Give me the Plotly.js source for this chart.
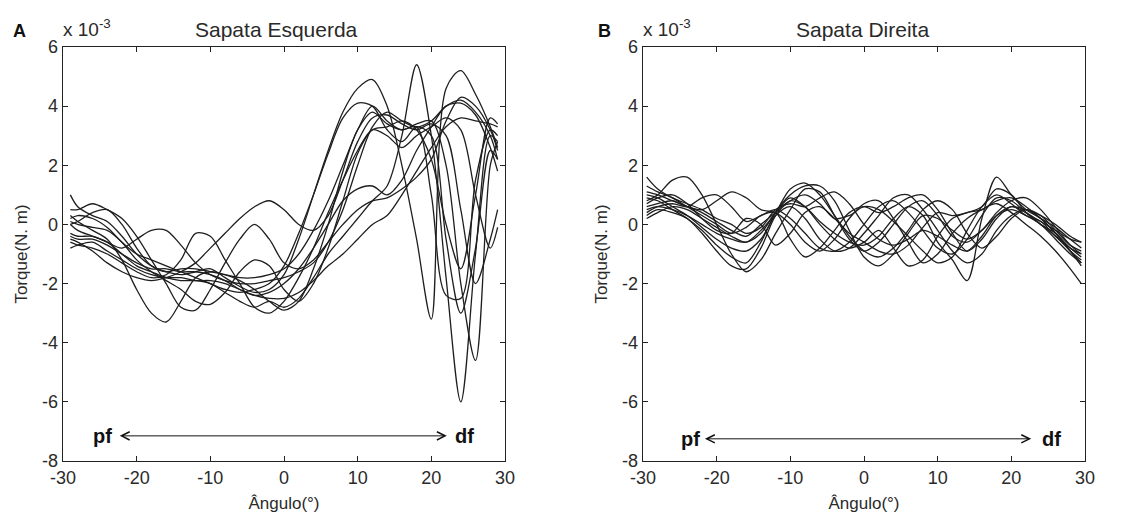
<!DOCTYPE html>
<html>
<head>
<meta charset="utf-8">
<script src="https://cdn.plot.ly/plotly-3.0.1.min.js"></script>
<style>html,body{margin:0;padding:0;background:#fff;}#chart{width:1139px;height:519px;}</style>
</head>
<body>
<div id="chart"></div>
<script>
// Angle grid (degrees)
const L_X = [-29,-28,-26,-24,-22,-20,-18,-16,-14,-12,-10,-8,-6,-4,-2,0,2,4,6,8,10,12,14,16,18,20,22,24,26,28,29];
const R_X = [-29.5,-28,-26,-24,-22,-20,-18,-16,-14,-12,-10,-8,-6,-4,-2,0,2,4,6,8,10,12,14,16,18,20,22,24,26,28,29.5];

// Sapata Esquerda (torque x 10^-3 N.m)
const L1 = [1.0,0.6,0.3,0.1,-0.4,-1.0,-1.4,-1.6,-1.7,-1.6,-1.5,-1.8,-2.1,-2.3,-2.2,-1.7,-0.5,1.0,2.5,3.8,4.6,4.9,4.0,2.0,-0.5,-3.2,4.6,5.2,4.4,3.3,2.6];
const L2 = [0.0,-0.2,-0.4,-0.6,-1.0,-1.4,-1.6,-1.8,-1.9,-1.9,-2.0,-2.3,-2.6,-2.8,-2.6,-2.8,-2.5,-1.8,-1.0,-0.4,0.2,0.8,1.3,3.0,5.4,3.0,-1.8,-6.0,-1.0,3.0,2.8];
const L3 = [-0.5,-0.6,-0.9,-1.3,-1.6,-1.8,-1.9,-1.8,-1.6,-1.3,-0.8,-0.3,0.2,0.6,0.8,0.5,0.0,-0.2,0.3,1.5,2.8,3.6,3.7,3.4,3.2,3.4,3.0,0.5,-2.0,-0.5,0.5];
const L4 = [0.3,0.1,-0.2,-0.5,-1.2,-2.2,-3.0,-3.3,-2.6,-1.8,-1.6,-1.7,-1.8,-1.8,-1.7,-1.5,-1.0,-0.2,0.8,2.0,3.2,4.0,3.5,3.2,3.4,3.5,2.0,-2.0,-4.6,2.0,2.8];
const L5 = [-0.3,-0.4,-0.4,-0.6,-0.8,-0.5,-0.2,-0.2,-0.7,-1.3,-1.7,-1.9,-2.0,-2.0,-1.9,-1.8,-1.6,-1.3,-0.6,0.5,2.0,3.3,3.8,3.5,3.3,3.5,4.0,4.2,3.8,3.0,2.2];
const L6 = [-0.6,-0.7,-0.8,-1.0,-1.3,-1.6,-1.8,-1.7,-1.2,-0.3,-0.4,-1.2,-2.0,-2.8,-3.0,-2.6,-1.8,-0.8,0.4,1.5,2.5,3.2,3.0,2.6,3.0,3.3,3.6,3.2,1.0,-0.8,-0.1];
const L7 = [0.5,0.5,0.7,0.5,0.2,-0.4,-1.2,-2.0,-2.8,-2.9,-2.2,-1.3,-0.5,0.0,-0.5,-1.3,-1.5,-1.2,-0.6,0.0,0.5,0.8,0.9,1.2,1.6,2.2,3.5,4.3,4.0,3.2,2.5];
const L8 = [-0.8,-0.7,-0.6,-0.9,-1.2,-1.5,-1.7,-1.8,-1.8,-1.9,-1.9,-2.0,-2.2,-2.4,-2.5,-2.5,-2.3,-1.9,-1.4,-1.0,-0.5,0.0,0.3,1.0,1.8,2.6,3.3,3.6,3.5,3.4,3.3];
const L9 = [-0.4,-0.5,-0.5,-0.7,-1.0,-1.3,-1.5,-1.5,-1.6,-1.6,-1.7,-1.9,-2.2,-2.4,-2.3,-2.0,-1.5,-0.8,0.0,0.8,1.2,1.3,1.0,1.5,2.5,3.3,4.0,4.1,3.7,2.6,1.8];
const L10 = [0.0,0.1,0.4,0.5,0.0,-0.8,-1.4,-1.6,-1.5,-1.5,-1.6,-1.7,-1.9,-2.2,-2.6,-2.9,-2.6,-1.5,0.0,1.8,3.2,3.8,3.4,3.2,3.3,1.0,-2.4,-2.5,1.5,3.2,3.0];
const L11 = [0.2,0.3,0.2,-0.1,-0.6,-1.0,-1.2,-1.4,-1.6,-1.8,-2.0,-2.2,-2.3,-2.2,-2.0,-1.4,-0.3,1.0,2.4,3.6,4.1,4.0,3.2,2.8,3.3,3.0,-0.5,-3.0,-0.8,2.5,2.2];
const L12 = [0.1,0.0,-0.1,-0.2,-0.6,-1.2,-1.6,-1.9,-2.2,-2.6,-2.7,-2.3,-1.6,-1.2,-1.4,-2.2,-2.6,-2.0,-0.8,0.8,2.4,3.2,3.3,3.5,3.2,2.2,0.0,-1.5,1.0,3.6,3.4];

// Sapata Direita (torque x 10^-3 N.m)
const R1 = [0.8,1.0,1.5,1.6,1.0,0.0,-1.0,-1.6,-1.2,-0.3,0.5,1.2,1.1,0.3,-0.5,-0.9,-0.6,0.0,0.6,0.8,0.3,-0.4,-0.6,-0.2,0.3,0.5,0.3,0.0,-0.5,-1.0,-1.3];
const R2 = [1.1,1.0,0.8,0.6,0.4,0.1,-0.2,-0.4,0.0,0.4,0.8,0.6,0.1,-0.3,-0.6,-0.7,-0.4,0.2,0.6,0.3,-0.6,-1.2,-1.9,0.2,1.6,1.0,0.5,0.2,-0.3,-0.9,-1.2];
const R3 = [0.5,0.6,0.5,0.3,0.0,-0.3,-0.5,-0.6,-0.2,0.4,1.2,1.4,1.0,0.3,-0.4,-0.9,-1.1,-0.8,-0.2,0.5,0.8,0.5,-0.3,-0.8,-0.4,0.2,0.5,0.3,-0.2,-0.7,-0.9];
const R4 = [1.3,1.1,0.9,0.6,0.3,0.0,-0.3,-0.1,0.3,0.4,-0.5,-1.1,-0.8,-0.2,0.4,0.6,0.4,0.6,0.9,1.0,0.5,-0.3,-0.9,-0.5,0.2,0.6,0.4,0.0,-0.3,-0.8,-1.1];
const R5 = [0.4,0.6,0.7,0.6,0.9,1.0,0.6,0.1,0.3,0.5,0.2,-0.3,-0.8,-0.9,-0.6,0.0,0.6,0.8,0.4,-0.2,-0.8,-1.0,-0.5,0.3,0.9,0.8,0.4,0.1,-0.2,-0.5,-0.6];
const R6 = [0.9,0.8,0.5,0.2,-0.2,-0.7,-1.1,-1.3,-0.6,0.4,1.0,1.3,1.3,0.8,-0.2,-1.1,-1.4,-1.0,-0.3,0.3,0.2,-0.2,-0.5,-0.2,0.4,0.8,0.9,0.5,-0.1,-0.7,-1.0];
const R7 = [0.6,0.7,0.8,0.6,0.5,0.8,1.1,0.9,0.5,0.4,0.0,-0.6,-0.9,-0.5,0.2,0.7,0.8,0.2,-0.6,-1.3,-1.0,-0.3,0.2,0.5,0.7,0.4,0.0,-0.4,-0.9,-1.5,-2.0];
const R8 = [0.2,0.4,0.6,0.5,0.2,-0.1,-0.4,-0.6,-0.3,0.4,0.9,0.6,0.0,-0.5,-0.8,-0.6,-0.2,-0.8,-1.4,-1.2,-0.4,0.2,0.4,0.5,0.8,0.9,0.6,0.2,-0.3,-0.9,-1.4];
const R9 = [1.6,1.2,0.9,0.7,0.5,0.2,0.0,-0.3,-0.1,0.5,0.7,0.6,0.9,1.1,0.7,0.0,-0.5,-0.7,-0.5,-0.2,-0.4,-0.7,-0.9,-0.4,0.3,0.6,0.5,0.3,0.0,-0.4,-0.6];
const R10 = [0.7,0.9,1.0,0.7,0.2,-0.2,-0.3,0.2,0.0,-0.7,-0.3,0.4,0.6,0.2,-0.3,-0.6,-0.9,-1.0,-0.7,-0.1,0.4,0.3,0.4,0.6,1.2,1.0,0.4,0.0,-0.4,-0.9,-1.3];
const R11 = [1.0,0.9,0.6,0.3,-0.1,-0.5,-0.8,-0.9,-0.5,0.3,0.6,0.2,-0.5,-0.9,-0.8,-0.3,0.3,0.9,1.0,0.5,-0.2,-0.9,-1.3,-1.0,-0.2,0.3,0.5,0.2,-0.1,-0.5,-0.8];
const R12 = [0.3,0.5,0.4,0.2,-0.3,-0.9,-1.4,-1.5,-0.8,0.3,0.8,1.0,0.7,0.2,0.3,0.6,0.5,0.1,-0.4,-0.9,-1.3,-1.1,-0.2,0.6,1.0,0.7,0.3,0.1,-0.4,-0.8,-1.0];

const X_TICKS = [-30,-20,-10,0,10,20,30];
const X_TICK_TEXT = ['-30','-20','-10','0','10','20','30'];
const Y_TICKS = [-8,-6,-4,-2,0,2,4,6];
const Y_TICK_TEXT = ['-8','-6','-4','-2','0','2','4','6'];

const LEFT = [L1,L2,L3,L4,L5,L6,L7,L8,L9,L10,L11,L12];
const RIGHT = [R1,R2,R3,R4,R5,R6,R7,R8,R9,R10,R11,R12];

const lineStyle = {color:'#1e1e1e', width:1.3, shape:'spline', smoothing:0.9};
const traces = [];
LEFT.forEach(y => traces.push({x:L_X, y:y, type:'scatter', mode:'lines', line:lineStyle, xaxis:'x', yaxis:'y', hoverinfo:'skip'}));
RIGHT.forEach(y => traces.push({x:R_X, y:y, type:'scatter', mode:'lines', line:lineStyle, xaxis:'x2', yaxis:'y2', hoverinfo:'skip'}));

const W = 1139, H = 519;
const px = v => v / W, py = v => 1 - v / H;
const FAM = '"Liberation Sans", Arial, sans-serif';
const font = {family:FAM, size:18, color:'#2a2a2a'};

function xa(dom){ return {domain:dom, range:[-30,30], tickvals:X_TICKS, ticktext:X_TICK_TEXT, ticks:'inside', ticklen:5, tickcolor:'#222',
  showline:true, linecolor:'#222', linewidth:1.3, mirror:'ticks', showgrid:false, zeroline:false, tickfont:font,
  title:{text:'Ângulo(°)', font:{family:FAM,size:17,color:'#2a2a2a'}, standoff:10}}; }
function ya(dom, anchor){ return {domain:dom, range:[-8,6], tickvals:Y_TICKS, ticktext:Y_TICK_TEXT, ticks:'inside', ticklen:5, tickcolor:'#222',
  showline:true, linecolor:'#222', linewidth:1.3, mirror:'ticks', showgrid:false, zeroline:false, tickfont:font, anchor:anchor,
  title:{text:'Torque(N. m)', font:{family:FAM,size:17,color:'#2a2a2a'}, standoff:10}}; }

const yd = [py(461), py(47)];
const layout = {
  width:W, height:H, margin:{l:0,r:0,t:0,b:0}, paper_bgcolor:'#fff', plot_bgcolor:'#fff', showlegend:false,
  xaxis: Object.assign(xa([px(63), px(505)]), {anchor:'y'}),
  yaxis: ya(yd, 'x'),
  xaxis2: Object.assign(xa([px(643), px(1085)]), {anchor:'y2'}),
  yaxis2: ya(yd, 'x2'),
  annotations: [
    {xref:'paper', yref:'paper', x:px(276), y:py(30), text:'Sapata Esquerda', showarrow:false, font:{family:FAM,size:21,color:'#2a2a2a'}, xanchor:'center', yanchor:'middle'},
    {xref:'paper', yref:'paper', x:px(862), y:py(30), text:'Sapata Direita', showarrow:false, font:{family:FAM,size:21,color:'#2a2a2a'}, xanchor:'center', yanchor:'middle'},
    {xref:'paper', yref:'paper', x:px(61), y:py(28), text:'x 10<sup>-3</sup>', showarrow:false, font:{family:FAM,size:19,color:'#2a2a2a'}, xanchor:'left', yanchor:'middle'},
    {xref:'paper', yref:'paper', x:px(641), y:py(28), text:'x 10<sup>-3</sup>', showarrow:false, font:{family:FAM,size:19,color:'#2a2a2a'}, xanchor:'left', yanchor:'middle'},
    {xref:'paper', yref:'paper', x:px(19), y:py(31), text:'<b>A</b>', showarrow:false, font:{family:FAM,size:18,color:'#111'}, xanchor:'center', yanchor:'middle'},
    {xref:'paper', yref:'paper', x:px(604), y:py(31), text:'<b>B</b>', showarrow:false, font:{family:FAM,size:18,color:'#111'}, xanchor:'center', yanchor:'middle'},
    {xref:'x', yref:'y', x:22.1, y:-7.15, ax:-22.5, ay:-7.15, axref:'x', ayref:'y', text:'', showarrow:true, arrowhead:5, startarrowhead:5, arrowside:'end+start', arrowsize:1.6, arrowwidth:1, arrowcolor:'#111'},
    {xref:'x', yref:'y', x:-24.6, y:-7.15, text:'<b>pf</b>', showarrow:false, font:{family:FAM,size:20,color:'#111'}},
    {xref:'x', yref:'y', x:24.5, y:-7.15, text:'<b>df</b>', showarrow:false, font:{family:FAM,size:20,color:'#111'}},
    {xref:'x2', yref:'y2', x:22.7, y:-7.25, ax:-21.8, ay:-7.25, axref:'x2', ayref:'y2', text:'', showarrow:true, arrowhead:5, startarrowhead:5, arrowside:'end+start', arrowsize:1.6, arrowwidth:1, arrowcolor:'#111'},
    {xref:'x2', yref:'y2', x:-23.6, y:-7.25, text:'<b>pf</b>', showarrow:false, font:{family:FAM,size:20,color:'#111'}},
    {xref:'x2', yref:'y2', x:25.5, y:-7.25, text:'<b>df</b>', showarrow:false, font:{family:FAM,size:20,color:'#111'}}
  ]
};
Plotly.newPlot('chart', traces, layout, {staticPlot:true, displayModeBar:false});
</script>
</body>
</html>
